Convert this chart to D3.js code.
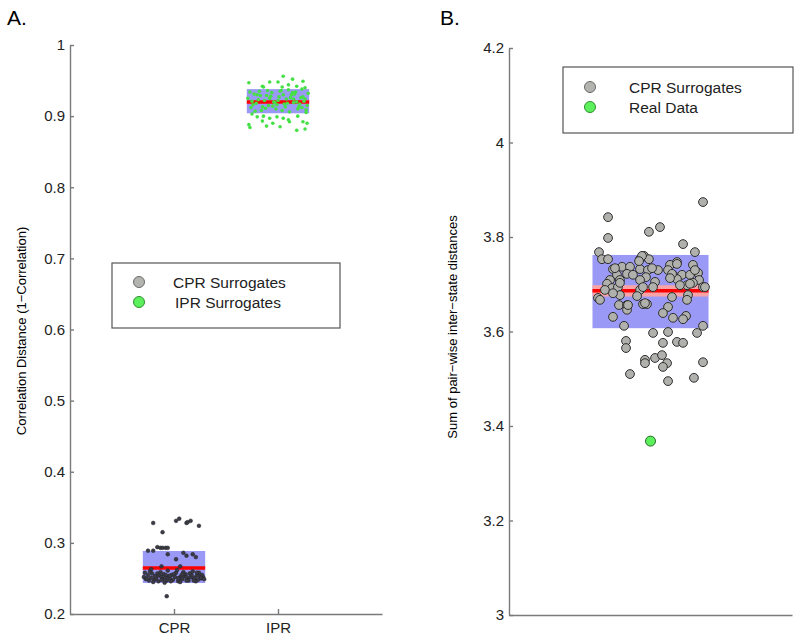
<!DOCTYPE html>
<html>
<head>
<meta charset="utf-8">
<script src="https://cdn.jsdelivr.net/npm/d3@7"></script>
<style>
  body { margin: 0; background: #fff; }
  svg { font-family: "Liberation Sans", Arial, sans-serif; }
  .axis path, .axis line { stroke: #7a7a7a; stroke-width: 1.4; }
  .axis text { font-size: 15px; fill: #222; }
</style>
</head>
<body>
<div id="chart"></div>
<script>
// ---- panel A data ----
const categories = ['CPR', 'IPR']
const yTicksA = [0.2, 0.3, 0.4, 0.5, 0.6, 0.7, 0.8, 0.9, 1]

const cprBox = [0.2436, 0.2886]
const cprMean = 0.2647
const iprBox = [0.904, 0.938]
const iprMean = 0.920

// horizontal jitter (category units) and value of each CPR surrogate
const cprJitter = [
  -0.20, -0.11, 0.02, 0.05, 0.12, 0.13, 0.16, 0.24, -0.16, -0.13, -0.11, -0.08, -0.06, -0.25, -0.20,
  -0.06, 0.02, 0.09, 0.12, 0.18, 0.21, -0.12, 0.06, -0.07,
  -0.29, -0.27, -0.25, -0.24, -0.22, -0.21, -0.19, -0.18, -0.17, -0.15, -0.14, -0.12, -0.11, -0.10,
  -0.08, -0.07, -0.05, -0.04, -0.02, -0.01, 0.01, 0.02, 0.04, 0.05, 0.07, 0.08, 0.10, 0.11, 0.13,
  0.14, 0.16, 0.17, 0.19, 0.20, 0.22, 0.23, 0.25, 0.26, 0.28, 0.29,
  -0.28, -0.23, -0.20, -0.16, -0.13, -0.09, -0.06, -0.03, 0.00, 0.03, 0.06, 0.09, 0.12, 0.15, 0.18,
  0.21, 0.24, 0.27, -0.26, -0.18, -0.12, -0.04, 0.04, 0.12, 0.19, 0.26, -0.22, -0.08, 0.08, 0.22
]
const cprValues = [
  0.328, 0.315, 0.331, 0.334, 0.328, 0.329, 0.331, 0.324, 0.294, 0.293, 0.293, 0.293, 0.293, 0.289, 0.289,
  0.284, 0.277, 0.286, 0.282, 0.284, 0.280, 0.267, 0.267, 0.225,
  0.252, 0.249, 0.255, 0.247, 0.251, 0.257, 0.248, 0.253, 0.250, 0.246, 0.254, 0.252, 0.249, 0.256,
  0.251, 0.247, 0.253, 0.250, 0.255, 0.248, 0.252, 0.258, 0.246, 0.251, 0.254, 0.249, 0.253, 0.256, 0.250,
  0.247, 0.252, 0.255, 0.249, 0.251, 0.254, 0.248, 0.253, 0.250, 0.252, 0.249,
  0.258, 0.260, 0.245, 0.257, 0.259, 0.244, 0.261, 0.246, 0.256, 0.262, 0.245, 0.259, 0.247, 0.257, 0.260,
  0.246, 0.258, 0.255, 0.250, 0.253, 0.248, 0.254, 0.250, 0.252, 0.247, 0.251, 0.263, 0.255, 0.256, 0.258
]

// horizontal jitter and value of each IPR surrogate
const iprJitter = [
  0.05, 0.14, 0.24, -0.08, 0.00, -0.28, -0.15, -0.14, 0.04, 0.10, 0.18, 0.23, 0.26,
  -0.25, -0.20, -0.14, -0.08, -0.01, 0.05, 0.10, 0.19, 0.24, 0.28, -0.28, -0.11, -0.05, 0.11, 0.18,
  -0.15, -0.27, 0.26, 0.02,
  -0.29, -0.26, -0.23, -0.21, -0.18, -0.16, -0.13, -0.11, -0.09, -0.06, -0.04, -0.02, 0.01, 0.03,
  0.06, 0.08, 0.11, 0.13, 0.15, 0.17, 0.20, 0.22, 0.25, 0.27, 0.29,
  -0.27, -0.24, -0.19, -0.12, -0.07, -0.03, 0.02, 0.07, 0.12, 0.16, 0.21, 0.26,
  -0.22, -0.17, -0.10, -0.05, 0.00, 0.05, 0.09, 0.14, 0.19, 0.24, 0.28,
  -0.25, -0.15, -0.08, 0.04, 0.10, 0.18, 0.23,
  -0.20, -0.01, 0.15, 0.27
]
const iprValues = [
  0.956, 0.952, 0.949, 0.948, 0.948, 0.947, 0.942, 0.941, 0.941, 0.944, 0.942, 0.938, 0.940,
  0.903, 0.899, 0.900, 0.897, 0.899, 0.897, 0.895, 0.900, 0.892, 0.890, 0.888, 0.886, 0.890, 0.892,
  0.880, 0.893, 0.884, 0.882, 0.885,
  0.925, 0.912, 0.931, 0.918, 0.935, 0.908, 0.922, 0.929, 0.915, 0.933, 0.920, 0.910, 0.927, 0.936,
  0.917, 0.924, 0.906, 0.930, 0.919, 0.934, 0.913, 0.926, 0.921, 0.909, 0.932,
  0.934, 0.916, 0.923, 0.911, 0.928, 0.919, 0.935, 0.913, 0.926, 0.931, 0.917, 0.924,
  0.907, 0.929, 0.936, 0.914, 0.922, 0.930, 0.918, 0.933, 0.910, 0.927, 0.915,
  0.921, 0.913, 0.925, 0.908, 0.937, 0.920, 0.912,
  0.930, 0.916, 0.924, 0.905
]

// ---- panel B data ----
const yTicksB = [3, 3.2, 3.4, 3.6, 3.8, 4, 4.2]
const surBox = [3.607, 3.762]
const surBand = [3.674, 3.698]
const surMean = 3.686
const realData = 3.368

const surJitter = [
  0.371, -0.300, -0.011, 0.067, -0.300, 0.230, 0.314, -0.364, -0.343, -0.300,
  -0.074, -0.046, -0.011, 0.187, 0.138, 0.300, -0.265, -0.201, -0.145, -0.166,
  -0.237, -0.216, -0.286, -0.074, -0.018, 0.053, -0.032, -0.074, 0.032, 0.124,
  0.159, 0.223, 0.187, 0.279, 0.336, 0.343, 0.300, 0.371, 0.258, 0.208,
  -0.307, -0.272, -0.230, -0.216, -0.322, -0.074, -0.095, -0.371, 0.152, 0.265,
  0.258, -0.223, -0.166, -0.166, -0.053, -0.025, 0.124, 0.088, -0.265, 0.159,
  0.251, 0.230, -0.187, 0.371, 0.018, 0.124, 0.329, -0.173, -0.173, 0.088,
  0.187, 0.230, -0.039, 0.032, 0.081, -0.039, 0.117, 0.088, 0.371, -0.145,
  0.124, 0.307, -0.124, -0.251, -0.060, -0.081, 0.018, -0.053, 0.279, 0.385,
  -0.159, -0.039, -0.265, -0.357, 0.187, 0.152, 0.138, 0.314, -0.216, 0.011
]
const surValues = [
  3.874, 3.842, 3.811, 3.821, 3.798, 3.785, 3.768, 3.768, 3.753, 3.753,
  3.753, 3.760, 3.753, 3.747, 3.741, 3.741, 3.732, 3.737, 3.737, 3.722,
  3.720, 3.709, 3.709, 3.732, 3.730, 3.730, 3.715, 3.709, 3.705, 3.730,
  3.720, 3.720, 3.711, 3.720, 3.724, 3.709, 3.703, 3.694, 3.698, 3.698,
  3.701, 3.692, 3.694, 3.677, 3.688, 3.688, 3.675, 3.671, 3.673, 3.677,
  3.667, 3.656, 3.656, 3.646, 3.658, 3.658, 3.652, 3.639, 3.631, 3.629,
  3.633, 3.626, 3.612, 3.612, 3.597, 3.599, 3.597, 3.580, 3.565, 3.576,
  3.578, 3.576, 3.540, 3.544, 3.550, 3.533, 3.533, 3.525, 3.535, 3.510,
  3.495, 3.502, 3.720, 3.734, 3.760, 3.749, 3.694, 3.694, 3.701, 3.694,
  3.656, 3.660, 3.681, 3.667, 3.743, 3.722, 3.713, 3.730, 3.703, 3.734
]

const boxColor = '#9a9af6'
const bandColor = '#f7a3a8'
const meanColor = '#ff0000'

let svg = d3.select('#chart')
  .append('svg')
  .attr('width', 800)
  .attr('height', 639)

let fmt = v => String(+v.toFixed(1))

////////////////////  panel A
let xA = d3.scaleLinear().domain([0, 3]).range([70, 382])
let yA = d3.scaleLinear().domain([0.2, 1]).range([614, 45])
let halfA = 0.3

svg.append('text')
  .attr('x', 7).attr('y', 25)
  .style('font-size', '21px')
  .text('A.')

let boxesA = [
  {i: 1, box: cprBox, mean: cprMean},
  {i: 2, box: iprBox, mean: iprMean}
]
svg.selectAll('.boxA')
  .data(boxesA)
  .join('rect')
  .attr('class', 'boxA')
  .attr('x', d => xA(d.i - halfA))
  .attr('width', d => xA(d.i + halfA) - xA(d.i - halfA))
  .attr('y', d => yA(d.box[1]))
  .attr('height', d => yA(d.box[0]) - yA(d.box[1]))
  .attr('fill', boxColor)

svg.selectAll('.meanA')
  .data(boxesA)
  .join('line')
  .attr('class', 'meanA')
  .attr('x1', d => xA(d.i - halfA))
  .attr('x2', d => xA(d.i + halfA))
  .attr('y1', d => yA(d.mean))
  .attr('y2', d => yA(d.mean))
  .attr('stroke', meanColor)
  .attr('stroke-width', 3.5)

svg.selectAll('.cpr')
  .data(cprValues)
  .join('circle')
  .attr('class', 'cpr')
  .attr('cx', (d, i) => xA(1 + cprJitter[i]))
  .attr('cy', d => yA(d))
  .attr('r', 1.9)
  .attr('fill', '#3c3c46')
  .attr('stroke', '#22222a')
  .attr('stroke-width', 0.5)

svg.selectAll('.ipr')
  .data(iprValues)
  .join('circle')
  .attr('class', 'ipr')
  .attr('cx', (d, i) => xA(2 + iprJitter[i]))
  .attr('cy', d => yA(d))
  .attr('r', 1.8)
  .attr('fill', '#45e045')

svg.append('g')
  .attr('class', 'axis')
  .attr('transform', `translate(${xA(0)},0)`)
  .call(d3.axisLeft(yA).tickValues(yTicksA).tickFormat(fmt)
    .tickSizeInner(-4).tickSizeOuter(0).tickPadding(5))

svg.append('g')
  .attr('class', 'axis')
  .attr('transform', `translate(0,${yA(0.2)})`)
  .call(d3.axisBottom(xA).tickValues([1, 2]).tickFormat(d => categories[d - 1])
    .tickSizeInner(-5).tickSizeOuter(0).tickPadding(8))

svg.selectAll('.axis .domain').attr('stroke', '#7a7a7a')

svg.append('text')
  .attr('transform', `translate(26,331) rotate(-90)`)
  .attr('text-anchor', 'middle')
  .style('font-size', '13px')
  .text('Correlation Distance  (1\u2212Correlation)')

// legend A
let legA = svg.append('g').attr('transform', 'translate(112,263)')
legA.append('rect')
  .attr('width', 228).attr('height', 65)
  .attr('fill', '#fff').attr('stroke', '#555').attr('stroke-width', 1.2)
let itemsA = [
  {label: 'CPR Surrogates', fill: '#b3b3b0', stroke: '#6a6a6a', dx: 61},
  {label: 'IPR Surrogates', fill: '#5cf05c', stroke: '#2f8f2f', dx: 63}
]
legA.selectAll('circle')
  .data(itemsA)
  .join('circle')
  .attr('cx', 27)
  .attr('cy', (d, i) => 19 + i * 20)
  .attr('r', 5.5)
  .attr('fill', d => d.fill)
  .attr('stroke', d => d.stroke)
legA.selectAll('text')
  .data(itemsA)
  .join('text')
  .attr('x', d => d.dx)
  .attr('y', (d, i) => 25 + i * 20)
  .style('font-size', '15.5px')
  .attr('fill', '#222')
  .text(d => d.label)

////////////////////  panel B
let xB = d3.scaleLinear().domain([0, 2]).range([509, 792])
let yB = d3.scaleLinear().domain([3, 4.2]).range([615, 48])
let halfB = 0.41

svg.append('text')
  .attr('x', 440).attr('y', 25)
  .style('font-size', '21px')
  .text('B.')

svg.append('rect')
  .attr('x', xB(1 - halfB))
  .attr('width', xB(1 + halfB) - xB(1 - halfB))
  .attr('y', yB(surBox[1]))
  .attr('height', yB(surBox[0]) - yB(surBox[1]))
  .attr('fill', boxColor)

svg.append('rect')
  .attr('x', xB(1 - halfB))
  .attr('width', xB(1 + halfB) - xB(1 - halfB))
  .attr('y', yB(surBand[1]))
  .attr('height', yB(surBand[0]) - yB(surBand[1]))
  .attr('fill', bandColor)

svg.append('line')
  .attr('x1', xB(1 - halfB))
  .attr('x2', xB(1 + halfB))
  .attr('y1', yB(surMean))
  .attr('y2', yB(surMean))
  .attr('stroke', meanColor)
  .attr('stroke-width', 3.5)

svg.selectAll('.sur')
  .data(surValues)
  .join('circle')
  .attr('class', 'sur')
  .attr('cx', (d, i) => xB(1 + surJitter[i]))
  .attr('cy', d => yB(d))
  .attr('r', 4.4)
  .attr('fill', '#b0b0ad')
  .attr('stroke', '#2e2e2e')
  .attr('stroke-width', 1)

svg.append('circle')
  .attr('cx', xB(1))
  .attr('cy', yB(realData))
  .attr('r', 5)
  .attr('fill', '#5cf05c')
  .attr('stroke', '#2a6a2a')
  .attr('stroke-width', 1)

svg.append('g')
  .attr('class', 'axis')
  .attr('transform', `translate(${xB(0)},0)`)
  .call(d3.axisLeft(yB).tickValues(yTicksB).tickFormat(fmt)
    .tickSizeInner(-4).tickSizeOuter(0).tickPadding(5))

svg.append('g')
  .attr('class', 'axis')
  .attr('transform', `translate(0,${yB(3)})`)
  .call(d3.axisBottom(xB).tickValues([]).tickSizeOuter(0))

svg.append('text')
  .attr('transform', `translate(457,327) rotate(-90)`)
  .attr('text-anchor', 'middle')
  .style('font-size', '13px')
  .text('Sum of pair\u2212wise inter\u2212state distances')

// legend B
let legB = svg.append('g').attr('transform', 'translate(563,67)')
legB.append('rect')
  .attr('width', 230).attr('height', 66)
  .attr('fill', '#fff').attr('stroke', '#555').attr('stroke-width', 1.2)
let itemsB = [
  {label: 'CPR Surrogates', fill: '#b3b3b0', stroke: '#6a6a6a'},
  {label: 'Real Data', fill: '#5cf05c', stroke: '#2f8f2f'}
]
legB.selectAll('circle')
  .data(itemsB)
  .join('circle')
  .attr('cx', 27)
  .attr('cy', (d, i) => 20 + i * 20)
  .attr('r', 5.5)
  .attr('fill', d => d.fill)
  .attr('stroke', d => d.stroke)
legB.selectAll('text')
  .data(itemsB)
  .join('text')
  .attr('x', 66)
  .attr('y', (d, i) => 26 + i * 20)
  .style('font-size', '15.5px')
  .attr('fill', '#222')
  .text(d => d.label)
</script>
</body>
</html>
